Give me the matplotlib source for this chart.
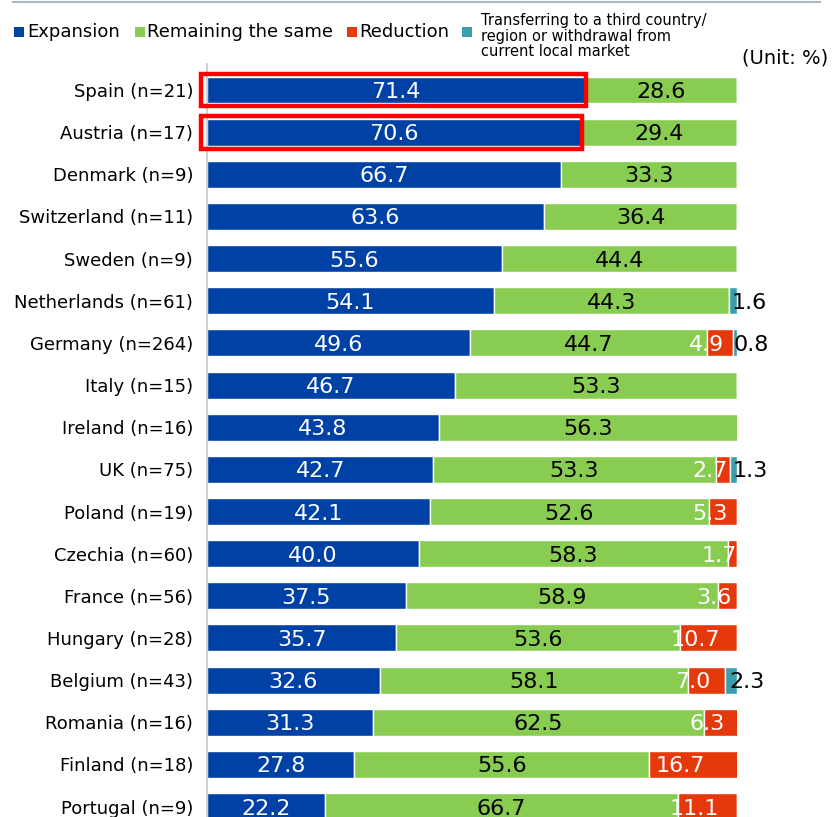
import numpy as np
import matplotlib.pyplot as plt
from matplotlib.patches import Rectangle
from matplotlib.lines import Line2D

countries = ["Spain (n=21)", "Austria (n=17)", "Denmark (n=9)", "Switzerland (n=11)",
             "Sweden (n=9)", "Netherlands (n=61)", "Germany (n=264)", "Italy (n=15)",
             "Ireland (n=16)", "UK (n=75)", "Poland (n=19)", "Czechia (n=60)",
             "France (n=56)", "Hungary (n=28)", "Belgium (n=43)", "Romania (n=16)",
             "Finland (n=18)", "Portugal (n=9)"]
expansion = [71.4, 70.6, 66.7, 63.6, 55.6, 54.1, 49.6, 46.7, 43.8, 42.7, 42.1, 40.0,
             37.5, 35.7, 32.6, 31.3, 27.8, 22.2]
same = [28.6, 29.4, 33.3, 36.4, 44.4, 44.3, 44.7, 53.3, 56.3, 53.3, 52.6, 58.3,
        58.9, 53.6, 58.1, 62.5, 55.6, 66.7]
reduction = [0, 0, 0, 0, 0, 0, 4.9, 0, 0, 2.7, 5.3, 1.7, 3.6, 10.7, 7.0, 6.3, 16.7, 11.1]
transfer = [0, 0, 0, 0, 0, 1.6, 0.8, 0, 0, 1.3, 0, 0, 0, 0, 2.3, 0, 0, 0]
highlighted = ["Spain (n=21)", "Austria (n=17)"]

series = ["Expansion", "Remaining the same", "Reduction",
          "Transferring to a third country/\nregion or withdrawal from\ncurrent local market"]
colors = ["#0041A6", "#88CC52", "#E5380B", "#3A9EAE"]

W, H = 833, 817
fig = plt.figure(figsize=(W / 100, H / 100), dpi=100)
ax_top = 64
ax = fig.add_axes([207 / W, 0, 530 / W, (H - ax_top) / H])

y = np.arange(len(countries))
step = 42.15
ax.set_ylim((H - 90) / step, (ax_top - 90) / step)
ax.set_xlim(0, 100)

left = np.zeros(len(countries))
data = [expansion, same, reduction, transfer]
for k, vals in enumerate(data):
    vals = np.array(vals)
    ax.barh(y, vals, left=left, height=0.64, color=colors[k],
            edgecolor="white", linewidth=1.0)
    for i, v in enumerate(vals):
        if v <= 0:
            continue
        txt = f"{v:.1f}"
        c = left[i] + v / 2
        if k == 0:
            ax.text(c, i, txt, ha="center", va="center_baseline", color="white", fontsize=16)
        elif k == 1:
            ax.text(c, i, txt, ha="center", va="center_baseline", color="black", fontsize=16)
        elif k == 2:
            ax.text(c - 2.5, i, txt, ha="center", va="center_baseline", color="white",
                    fontsize=16, clip_on=False)
        else:
            ax.text(c - 0.2, i, txt, ha="left", va="center_baseline", color="black",
                    fontsize=16, clip_on=False)
    left += vals

# red highlight boxes
for name in highlighted:
    i = countries.index(name)
    ax.add_patch(Rectangle((-1.15, i - 0.39), expansion[i] + 1.3, 0.78, fill=False,
                           edgecolor="#FF0000", linewidth=3.2, clip_on=False, zorder=5))

ax.set_yticks(y)
ax.set_yticklabels(countries, fontsize=13)
ax.tick_params(axis="y", length=0, pad=10)
ax.set_xticks([])
for s in ["top", "right", "bottom"]:
    ax.spines[s].set_visible(False)
ax.spines["left"].set_color("#C8C8C8")
ax.spines["left"].set_linewidth(1.2)

# legend drawn by hand
leg_x = [14, 135, 347, 462]
text_x = [27, 147, 359, 481]
for k in range(4):
    fig.add_artist(Rectangle((leg_x[k] / W, 1 - 37 / H), 10 / W, 10 / H,
                             facecolor=colors[k], edgecolor="none"))
    if k < 3:
        fig.text(text_x[k] / W, 1 - 32 / H, series[k], fontsize=13, va="center", ha="left")
    else:
        fig.text(text_x[k] / W, 1 - 36 / H, series[k], fontsize=10.5, va="center",
                 ha="left", linespacing=1.0)
fig.text(828 / W, 1 - 58 / H, "(Unit: %)", fontsize=14, ha="right", va="center")

fig.add_artist(Line2D([13 / W, 820 / W], [1 - 2 / H, 1 - 2 / H], color="#A9B7C9",
                      linewidth=1.5))

fig.savefig("out.png", dpi=100)
